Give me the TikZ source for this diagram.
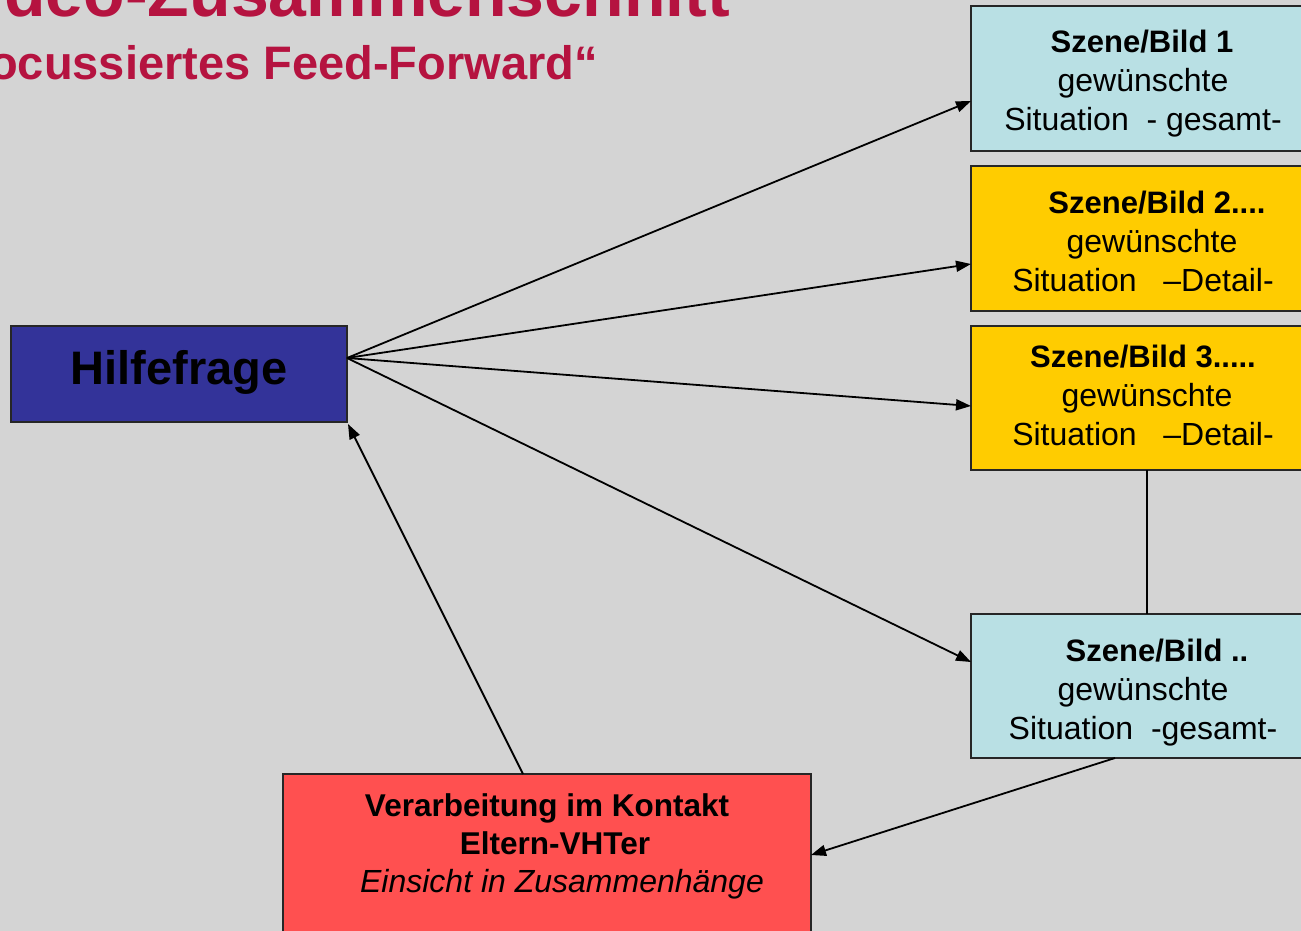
\documentclass[tikz,border=0pt]{standalone}
\usepackage{fontspec}
\setmainfont{Liberation Sans}
\usetikzlibrary{arrows.meta}
\definecolor{bgray}{RGB}{212,212,212}
\definecolor{titlered}{RGB}{181,19,64}
\definecolor{hfblue}{RGB}{51,51,153}
\definecolor{lcyan}{RGB}{185,224,228}
\definecolor{gold}{RGB}{255,204,0}
\definecolor{salmon}{RGB}{255,80,80}
\tikzset{
  box/.style={draw=black!85, line width=1.5pt, rectangle, inner sep=0pt, outer sep=0pt},
  txt/.style={anchor=base, inner sep=0pt, font=\fontsize{32}{39}\selectfont},
  btxt/.style={anchor=base, inner sep=0pt, font=\fontsize{31}{39}\selectfont\bfseries},
  rtxt/.style={anchor=base, inner sep=0pt},
  conn/.style={line width=1.8pt, -{Triangle[length=15pt,width=11pt]}},
  plain/.style={line width=1.8pt}
}
\begin{document}
\begin{tikzpicture}[x=1pt,y=-1pt]
\useasboundingbox (0,0) rectangle (1301,931);
\clip (0,0) rectangle (1301,931);
\fill[bgray] (0,0) rectangle (1301,931);
% title
\node[anchor=base east, inner sep=0pt, text=titlered, font=\fontsize{68}{70}\selectfont\bfseries] (t1) at (730,17) {deo-Zusammenschnitt};
\node[anchor=base east, inner sep=0pt, text=titlered, font=\fontsize{47}{50}\selectfont\bfseries] (t2) at (598,80) {ocussiertes Feed-Forward“};
% boxes
\node[box, fill=hfblue, minimum width=336pt, minimum height=96pt] (hf) at (179,374) {};
\node[anchor=base, inner sep=0pt, font=\fontsize{47}{50}\selectfont\bfseries] (hft) at (179,384) {Hilfefrage};
\node[box, fill=lcyan, minimum width=344pt, minimum height=145pt] (b1) at (1143,78.5) {};
\node[box, fill=gold, minimum width=344pt, minimum height=145pt] (b2) at (1143,238.5) {};
\node[box, fill=gold, minimum width=344pt, minimum height=144pt] (b3) at (1143,398) {};
\node[box, fill=lcyan, minimum width=344pt, minimum height=144pt] (b4) at (1143,686) {};
\node[box, fill=salmon, minimum width=528pt, minimum height=166pt] (rb) at (547,857) {};
% box texts
\node[btxt] (b1a) at (1142,53) {Szene/Bild 1};
\node[txt] (b1b) at (1143,92) {gewünschte};
\node[txt] (b1c) at (1143,131) {Situation\ \ - gesamt-};
\node[btxt] (b2a) at (1157,213) {Szene/Bild 2....};
\node[txt] (b2b) at (1152,252) {gewünschte};
\node[txt] (b2c) at (1143,291) {Situation\ \ \ –Detail-};
\node[btxt] (b3a) at (1143,367) {Szene/Bild 3.....};
\node[txt] (b3b) at (1147,406) {gewünschte};
\node[txt] (b3c) at (1143,445) {Situation\ \ \ –Detail-};
\node[btxt] (b4a) at (1157,661) {Szene/Bild ..};
\node[txt] (b4b) at (1143,700) {gewünschte};
\node[txt] (b4c) at (1143,739) {Situation\ \ -gesamt-};
\node[rtxt, font=\fontsize{31.5}{38}\selectfont\bfseries] (r1) at (547,816) {Verarbeitung im Kontakt};
\node[rtxt, font=\fontsize{31.5}{38}\selectfont\bfseries] (r2) at (555,854) {Eltern-VHTer};
\node[rtxt, font=\fontsize{32}{38}\selectfont\itshape] (r3) at (562,892) {Einsicht in Zusammenhänge};
% connectors
\coordinate (hfout) at ([yshift=16pt]hf.east);
\draw[conn] (hfout) -- ([yshift=-22.5pt]b1.west);
\draw[conn] (hfout) -- ([yshift=-25.5pt]b2.west);
\draw[conn] (hfout) -- ([yshift=-8pt]b3.west);
\draw[conn] (hfout) -- ([yshift=24pt]b4.west);
\draw[plain] ([xshift=4pt]b3.south) -- ([xshift=4pt]b4.north);
\draw[conn] ([xshift=-28pt]b4.south) -- ([yshift=2pt]rb.east);
\draw[conn] ([xshift=-24pt]rb.north) -- ([xshift=1pt,yshift=-2pt]hf.south east);
\end{tikzpicture}
\end{document}
